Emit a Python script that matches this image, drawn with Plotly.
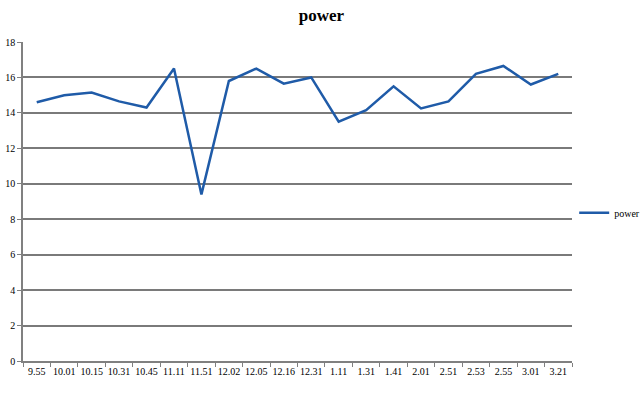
import plotly.graph_objects as go

categories = ["9.55", "10.01", "10.15", "10.31", "10.45", "11.11", "11.51", "12.02", "12.05", "12.16",
              "12.31", "1.11", "1.31", "1.41", "2.01", "2.51", "2.53", "2.55", "3.01", "3.21"]
power = [14.6, 15.0, 15.15, 14.65, 14.3, 16.5, 9.4, 15.8, 16.5, 15.65,
         16.0, 13.5, 14.15, 15.5, 14.25, 14.65, 16.2, 16.65, 15.6, 16.2]
y_ticks = [0, 2, 4, 6, 8, 10, 12, 14, 16, 18]

FONT = "Liberation Serif, Times New Roman, serif"

fig = go.Figure()
fig.add_trace(go.Scatter(
    x=categories, y=power, mode="lines", name="power",
    line=dict(color="#1f5ba8", width=2.5),
))

fig.update_layout(
    width=643, height=394,
    margin=dict(l=23, r=71, t=42, b=33),
    paper_bgcolor="white", plot_bgcolor="white",
    title=dict(text="<b>power</b>", x=0.5, xanchor="center", y=0.962, yanchor="middle",
               font=dict(family=FONT, size=17, color="black")),
    font=dict(family=FONT, size=10, color="black"),
    showlegend=True,
    legend=dict(xref="container", yref="container", x=0.893, xanchor="left",
                y=0.46, yanchor="middle",
                font=dict(family=FONT, size=10, color="black"),
                bgcolor="rgba(0,0,0,0)", itemwidth=30),
    xaxis=dict(
        type="category", tickson="boundaries", ticks="outside", ticklen=4,
        range=[-0.5, len(categories) - 0.5], tickangle=0, automargin=False,
        tickcolor="#808080", showline=True, linecolor="#808080", linewidth=1.5,
        showgrid=False, tickfont=dict(family=FONT, size=10, color="black"),
    ),
    yaxis=dict(
        range=[0, 18], tickvals=y_ticks, ticks="outside", ticklen=4, tickcolor="#808080",
        showline=True, linecolor="#808080", linewidth=1.5, automargin=False,
        showgrid=True, gridcolor="#7a7a7a", gridwidth=1.5, zeroline=False,
        tickfont=dict(family=FONT, size=10, color="black"),
    ),
)

fig.write_html("out.html")
